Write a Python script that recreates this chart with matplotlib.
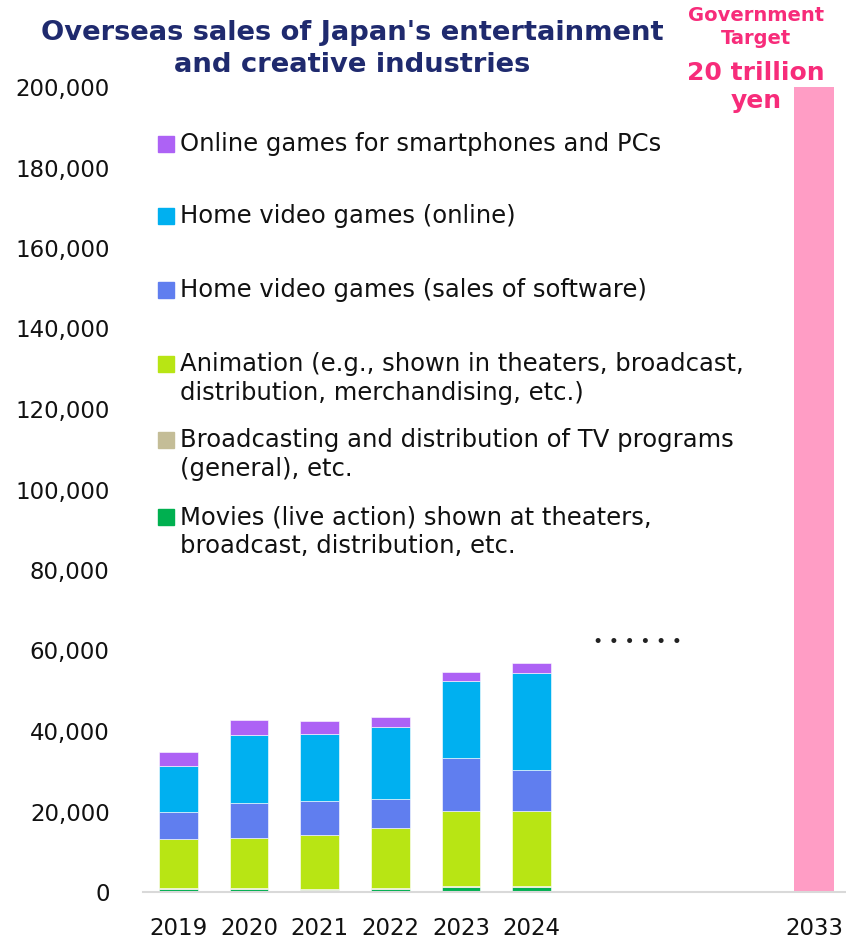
import matplotlib.pyplot as plt
from matplotlib.patches import Rectangle
import numpy as np

years = ["2019", "2020", "2021", "2022", "2023", "2024"]
target_year = "2033"
target_value = 200000

# 100 million yen, stacked bottom to top
movies = [800, 700, 500, 750, 1250, 1250]
broadcast = [300, 250, 250, 300, 350, 350]
animation = [12100, 12450, 13350, 14750, 18500, 18500]
games_software = [6800, 8800, 8500, 7200, 13200, 10100]
games_online = [11200, 16700, 16600, 17900, 19000, 24300]
games_mobile = [3700, 3900, 3300, 2700, 2300, 2400]

series = [movies, broadcast, animation, games_software, games_online, games_mobile]
colors = ["#00B050", "#C4BD97", "#B8E514", "#607EEF", "#00B0F0", "#AD62F5"]
labels = [
    ["Movies (live action) shown at theaters,", "broadcast, distribution, etc."],
    ["Broadcasting and distribution of TV programs", "(general), etc."],
    ["Animation (e.g., shown in theaters, broadcast,", "distribution, merchandising, etc.)"],
    ["Home video games (sales of software)"],
    ["Home video games (online)"],
    ["Online games for smartphones and PCs"],
]
legend_rows = [517, 440, 364, 290, 216, 144]

W, H = 846, 943
fig = plt.figure(figsize=(W / 100, H / 100), dpi=100)
ax = fig.add_axes([143 / W, 1 - 892 / H, 1 - 143 / W, (892 - 87) / H])

x = np.arange(len(years))
bottom = np.zeros(len(years))
for vals, c in zip(series, colors):
    ax.bar(x, vals, 0.55, bottom=bottom, color=c, edgecolor="white", linewidth=0.4)
    bottom += np.array(vals)

x_target = 9
ax.bar([x_target], [target_value], 0.56, color="#FF9DC5")

ax.set_xlim(-0.5, 9.45)
ax.set_ylim(0, 200000)
ax.set_xticks(list(x) + [x_target])
ax.set_xticklabels(years + [target_year])
ax.set_yticks(np.arange(0, 200001, 20000))
ax.set_yticklabels([f"{v:,}" for v in range(0, 200001, 20000)])
ax.tick_params(axis="both", length=0, labelsize=16.5, colors="#111111")
ax.tick_params(axis="y", pad=24)
ax.tick_params(axis="x", pad=18)
for s in ["left", "right", "top"]:
    ax.spines[s].set_visible(False)
ax.spines["bottom"].set_color("#D9D9D9")
ax.spines["bottom"].set_linewidth(1.5)

ax.text(6.5, 62000, "• • • • • •", ha="center", va="center", fontsize=12.5, color="#222222")


def fx(px):
    return px / W


def fy(py):
    return 1 - py / H


# legend, built by hand so the swatch sits beside the first line
for lines, c, row in zip(labels, colors, legend_rows):
    fig.patches.append(Rectangle((fx(158), fy(row + 8)), 16 / W, 16 / H,
                                 transform=fig.transFigure, color=c))
    for i, line in enumerate(lines):
        fig.text(fx(180), fy(row + i * 29), line, ha="left", va="center",
                 fontsize=17.5, color="#111111")

fig.text(fx(352), fy(49), "Overseas sales of Japan's entertainment\nand creative industries",
         ha="center", va="center", fontsize=19.7, fontweight="bold", color="#1F2A6E",
         linespacing=1.26)

pink = "#F72C7A"
fig.text(fx(756), fy(27), "Government\nTarget", ha="center", va="center",
         fontsize=14, fontweight="bold", color=pink, linespacing=1.27)
fig.text(fx(756), fy(87), "20 trillion\nyen", ha="center", va="center",
         fontsize=18, fontweight="bold", color=pink, linespacing=1.18)

fig.savefig("out.png", dpi=100)
